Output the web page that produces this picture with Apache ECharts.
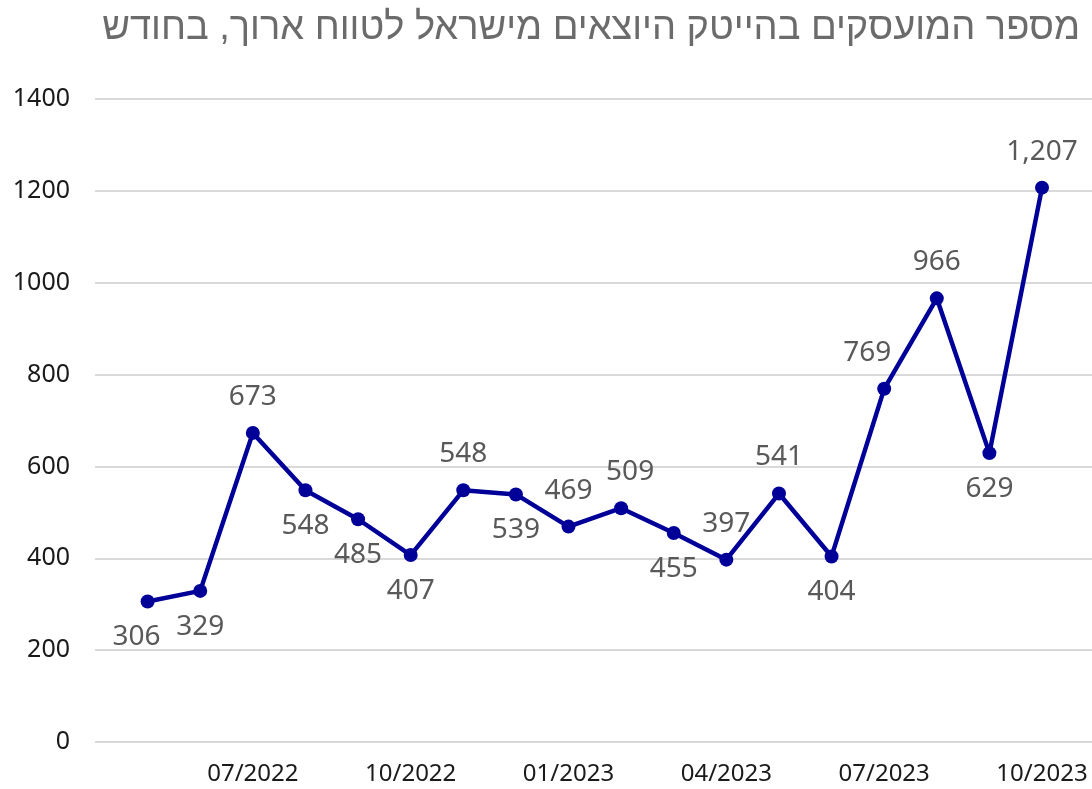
<!DOCTYPE html>
<html lang="he">
<head>
  <meta charset="UTF-8">
  <title>מספר המועסקים בהייטק</title>
  <style>
    html, body { margin: 0; padding: 0; background: #fff; }
    #main { width: 1092px; height: 789px; }
  </style>
</head>
<body>
  <div id="main"></div>
<script src="https://cdn.jsdelivr.net/npm/echarts@6/dist/echarts.min.js"></script>
<script>
  // months 05/2022 .. 10/2023
  var months = ['05/2022', '06/2022', '07/2022', '08/2022', '09/2022', '10/2022',
                '11/2022', '12/2022', '01/2023', '02/2023', '03/2023', '04/2023',
                '05/2023', '06/2023', '07/2023', '08/2023', '09/2023', '10/2023'];
  var workers = [306, 329, 673, 548, 485, 407, 548, 539, 469, 509, 455, 397,
                 541, 404, 769, 966, 629, 1207];
  var titleText = 'מספר המועסקים בהייטק היוצאים מישראל לטווח ארוך, בחודש';

  // where each value label sits relative to its point
  var labelPlace = ['bottom', 'bottom', 'top', 'bottom', 'bottom', 'bottom',
                    'top', 'bottom', 'top', 'top', 'bottom', 'top',
                    'top', 'bottom', 'top', 'top', 'bottom', 'top'];
  var labelShift = {0: [-11, 0], 9: [9, 0], 14: [-17, 0]};

  var chart = echarts.init(document.getElementById('main'));

  var points = workers.map(function (v, i) {
    return {
      value: [i, v],
      label: {position: labelPlace[i], offset: labelShift[i] || [0, 0]}
    };
  });

  var option = {
    animation: false,
    title: {
      text: titleText,
      right: 7,
      top: 5,
      textStyle: {
        fontFamily: 'Liberation Sans Narrow, Liberation Sans, sans-serif',
        fontWeight: 'normal',
        fontSize: 38,
        color: '#6b6b6b'
      }
    },
    grid: {left: 95, right: 0, top: 99, bottom: 47},
    xAxis: {
      type: 'value',
      min: -1,
      max: 17.95,
      interval: 3,
      axisLine: {show: false},
      axisTick: {show: false},
      splitLine: {show: false},
      axisLabel: {
        margin: 20,
        fontFamily: 'Noto Sans',
        fontSize: 24,
        color: '#1a1a1a',
        showMaxLabel: false,
        formatter: function (v) {
          return (v >= 0 && Number.isInteger(v)) ? months[v] : '';
        }
      }
    },
    yAxis: {
      type: 'value',
      min: 0,
      max: 1400,
      interval: 200,
      axisLine: {show: false},
      axisTick: {show: false},
      splitLine: {lineStyle: {color: '#d9d9d9', width: 2}},
      axisLabel: {
        margin: 25,
        fontFamily: 'Noto Sans',
        fontSize: 25,
        color: '#1a1a1a',
        formatter: function (v) { return String(v); }
      }
    },
    series: [{
      type: 'line',
      data: points,
      symbol: 'circle',
      symbolSize: 14,
      lineStyle: {color: '#000099', width: 4.5},
      itemStyle: {color: '#000099'},
      label: {
        show: true,
        distance: 15,
        fontFamily: 'Noto Sans',
        fontSize: 28,
        color: '#595959',
        formatter: function (p) { return p.value[1].toLocaleString('en-US'); }
      }
    }]
  };

  chart.setOption(option);
</script>
</body>
</html>
